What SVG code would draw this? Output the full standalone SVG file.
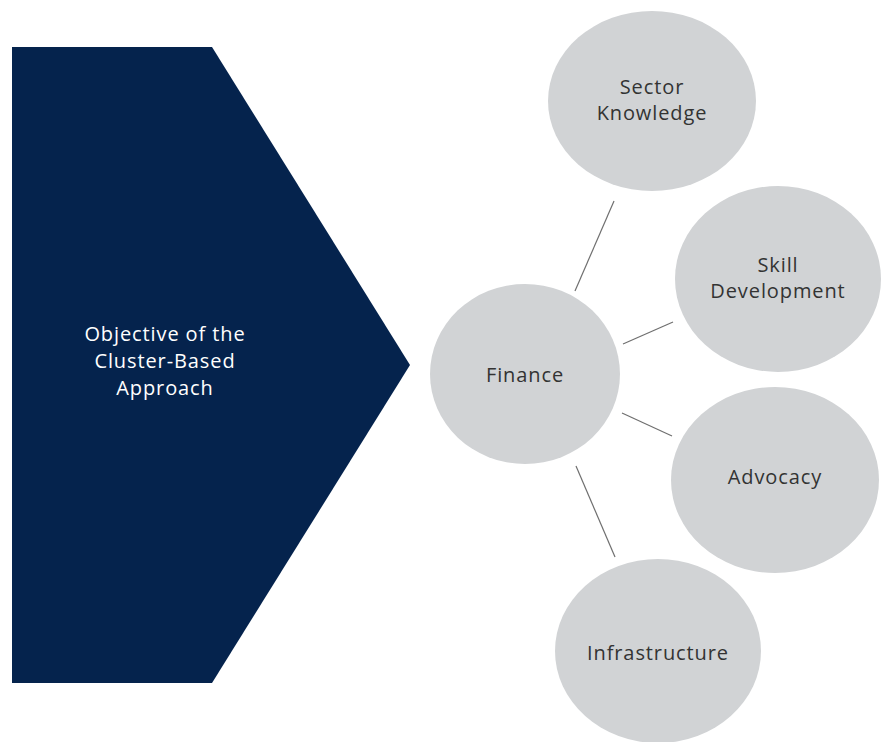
<svg xmlns="http://www.w3.org/2000/svg" width="881" height="742" viewBox="0 0 881 742">
<style>
.bub{fill:#d1d3d5}
.t{font-family:"Open Sans","Noto Sans",sans-serif;font-size:20px;letter-spacing:0.9px;fill:#333333;text-anchor:middle}
.w{fill:#ffffff}
.c line{stroke:#6f6f6f;stroke-width:1.2}
</style>
<rect width="881" height="742" fill="#ffffff"/>
<g id="objective">
<polygon points="12,47 212,47 410,365 212,683 12,683" fill="#05234d"/>
<text class="t w" x="165" y="341">Objective of the</text>
<text class="t w" x="165" y="368">Cluster-Based</text>
<text class="t w" x="165" y="395">Approach</text>
</g>
<g class="c" id="connectors">
<line x1="575" y1="291" x2="614" y2="201"/>
<line x1="623" y1="344" x2="673" y2="322"/>
<line x1="622" y1="413" x2="672" y2="436"/>
<line x1="576" y1="466" x2="615" y2="557"/>
</g>
<g id="sector">
<ellipse class="bub" cx="652" cy="101" rx="104" ry="90"/>
<text class="t" x="652" y="94">Sector</text>
<text class="t" x="652" y="120">Knowledge</text>
</g>
<g id="skill">
<ellipse class="bub" cx="778" cy="279" rx="103" ry="93"/>
<text class="t" x="778" y="272">Skill</text>
<text class="t" x="778" y="298">Development</text>
</g>
<g id="finance">
<ellipse class="bub" cx="525" cy="374" rx="95" ry="90"/>
<text class="t" x="525" y="382">Finance</text>
</g>
<g id="advocacy">
<ellipse class="bub" cx="775" cy="480" rx="104" ry="93"/>
<text class="t" x="775" y="484">Advocacy</text>
</g>
<g id="infrastructure">
<ellipse class="bub" cx="658" cy="651" rx="103" ry="92"/>
<text class="t" x="658" y="660">Infrastructure</text>
</g>
</svg>
